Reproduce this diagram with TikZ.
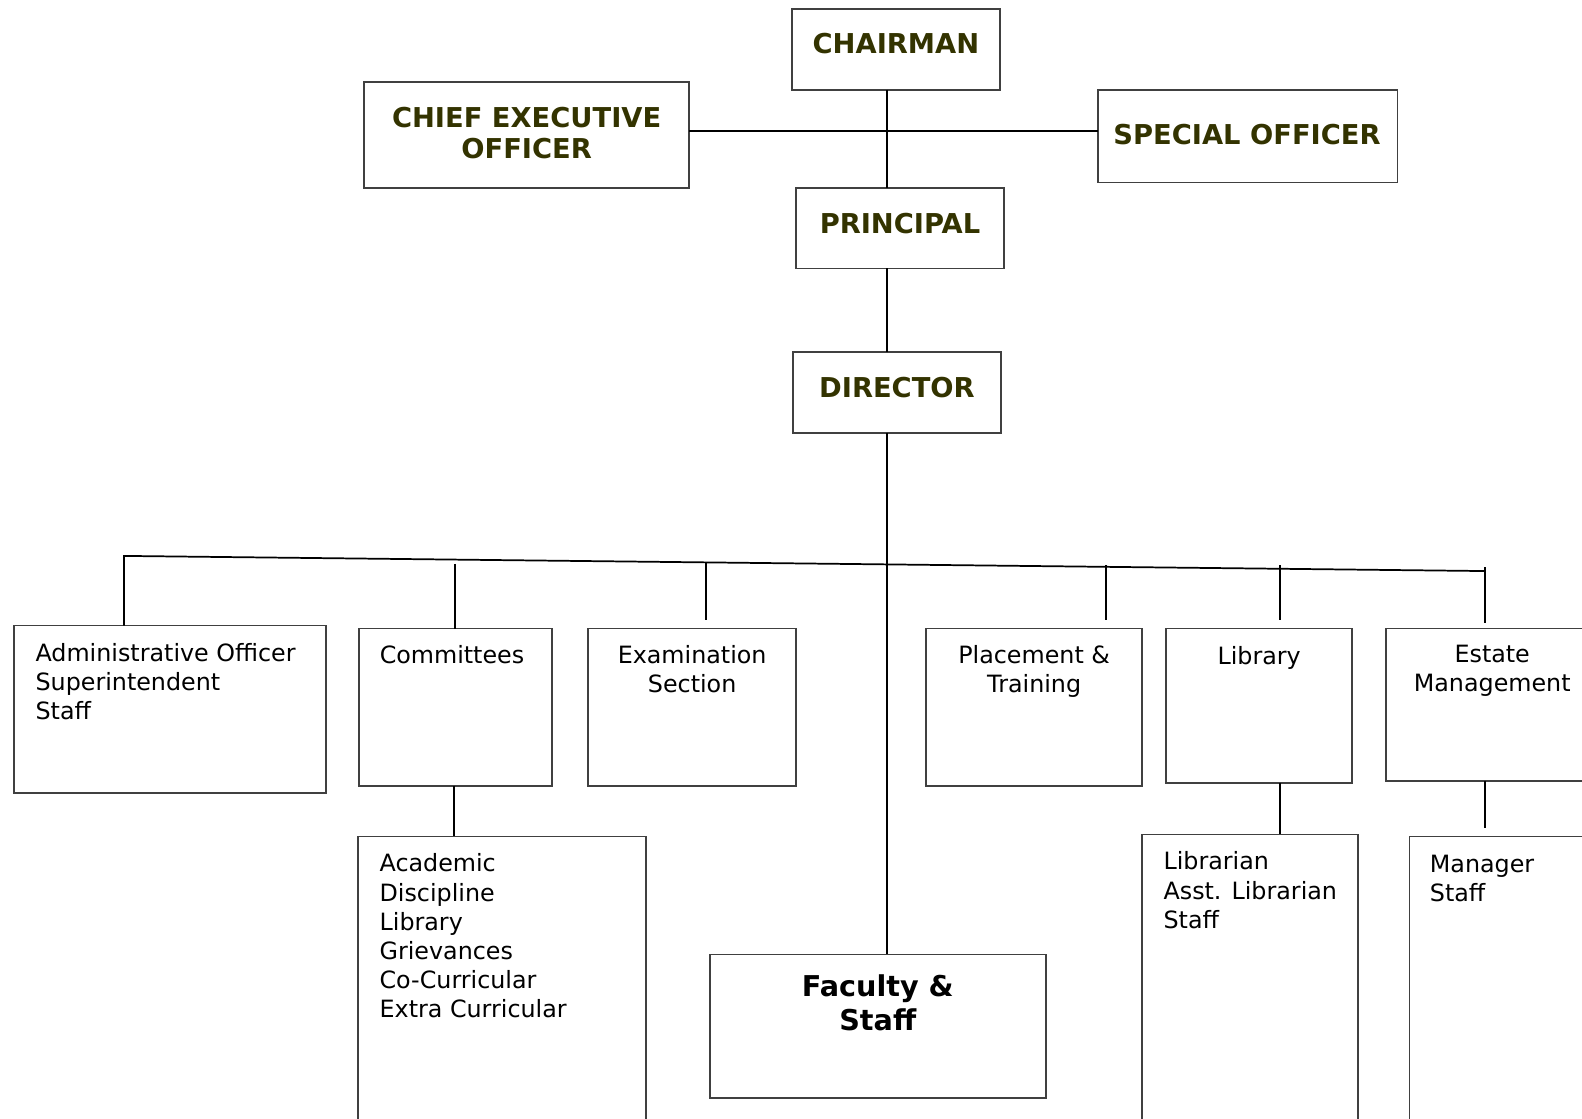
\documentclass[tikz,border=0pt]{standalone}
\usepackage{fontspec}
\setmainfont{DejaVu Sans}
\definecolor{headcol}{HTML}{333300}
\definecolor{boxcol}{HTML}{404040}
\newlength{\pxu}
\setlength{\pxu}{0.7567pt}

\begin{document}
\begin{tikzpicture}[x=0.7567pt,y=0.7567pt,yscale=-1,xscale=1,
  box/.style={draw=boxcol, line width=1.3pt, inner sep=0, outer sep=0},
  link/.style={line width=1.3pt},
  head/.style={font=\bfseries\fontsize{20.5}{23.5}\selectfont, text=headcol, align=center, inner sep=0, anchor=north},
  headbig/.style={font=\bfseries\fontsize{21.5}{25.7}\selectfont, align=center, inner sep=0, anchor=north},
  bodyl/.style={font=\fontsize{17.85}{21.9}\selectfont, align=left, inner sep=0, anchor=north west},
  bodyc/.style={font=\fontsize{17.85}{21.9}\selectfont, align=center, inner sep=0, anchor=north}]
\path [use as bounding box, clip] (0,0) rectangle (1568,1109);

%Boxes: top of the chart
\node [box, minimum width=206\pxu, minimum height=80\pxu] (chair) at (888,49) {};
\node [box, minimum width=322\pxu, minimum height=105\pxu] (ceo) at (522,133.5) {};
\node [box, minimum width=297\pxu, minimum height=92\pxu] (spec) at (1236.5,135) {};
\node [box, minimum width=206\pxu, minimum height=80\pxu] (princ) at (892,226) {};
\node [box, minimum width=206\pxu, minimum height=80\pxu] (dir) at (889,389) {};

%Boxes: sections
\node [box, minimum width=309\pxu, minimum height=166\pxu] (admin) at (168.5,703) {};
\node [box, minimum width=191\pxu, minimum height=156\pxu] (comm) at (451.5,701) {};
\node [box, minimum width=206\pxu, minimum height=156\pxu] (exam) at (686,701) {};
\node [box, minimum width=214\pxu, minimum height=156\pxu] (place) at (1025,701) {};
\node [box, minimum width=184\pxu, minimum height=153\pxu] (lib) at (1248,699.5) {};
\node [box, minimum width=211\pxu, minimum height=151\pxu] (estate) at (1479.5,698.5) {};

%Boxes: bottom row
\node [box, minimum width=285\pxu, minimum height=311\pxu] (acad) at (497.5,984.5) {};
\node [box, minimum width=333\pxu, minimum height=142\pxu] (fac) at (870.5,1017) {};
\node [box, minimum width=214\pxu, minimum height=313\pxu] (libr) at (1239,983.5) {};
\node [box, minimum width=203\pxu, minimum height=311\pxu] (mgr) at (1498.5,984.5) {};

% Text Node
\node [head] (chair-t) at (888,33) {CHAIRMAN};
% Text Node
\node [head] (ceo-t) at (522,106) {CHIEF EXECUTIVE\\OFFICER};
% Text Node
\node [head] (spec-t) at (1236,123) {SPECIAL OFFICER};
% Text Node
\node [head] (princ-t) at (892,211) {PRINCIPAL};
% Text Node
\node [head] (dir-t) at (889,374) {DIRECTOR};
% Text Node
\node [bodyl] (admin-t) at (35,637) {Administrative Officer\\Superintendent\\Staff};
% Text Node
\node [bodyc] (comm-t) at (448,639) {Committees};
% Text Node
\node [bodyc] (exam-t) at (686,639) {Examination\\Section};
% Text Node
\node [bodyc] (place-t) at (1025,639) {Placement \&\\Training};
% Text Node
\node [bodyc] (lib-t) at (1248,640) {Library};
% Text Node
\node [bodyc] (estate-t) at (1479,639) {Estate\\Management};
% Text Node
\node [bodyl] (acad-t) at (376,846) {Academic\\Discipline\\Library\\Grievances\\Co-Curricular\\Extra Curricular};
% Text Node
\node [headbig] (fac-t) at (870,966) {Faculty \&\\Staff};
% Text Node
\node [bodyl] (libr-t) at (1153,844) {Librarian\\Asst. Librarian\\Staff};
% Text Node
\node [bodyl] (mgr-t) at (1417,847) {Manager\\Staff};

%Connectors
\coordinate (sp) at (879,0);
\coordinate (hub) at (879,130);
\coordinate (busL) at (123,551);
\coordinate (busR) at (1472,566);
\coordinate (d-comm) at (451,559);
\coordinate (d-exam) at (700,558);
\coordinate (d-place) at (1096,560);
\coordinate (d-lib) at (1269,560);
\coordinate (d-est) at (1472,562);

\draw [link] (chair.south -| sp) -- (princ.north -| sp);
\draw [link] (ceo.east |- hub) -- (spec.west |- hub);
\draw [link] (princ.south -| sp) -- (dir.north -| sp);
\draw [link] (dir.south -| sp) -- (fac.north -| sp);
\draw [link] (admin.north -| busL) -- (busL) -- (busR);
\draw [link] (d-comm) -- (comm.north -| d-comm);
\draw [link, shorten >=8\pxu] (d-exam) -- (exam.north -| d-exam);
\draw [link, shorten >=8\pxu] (d-place) -- (place.north -| d-place);
\draw [link, shorten >=8\pxu] (d-lib) -- (lib.north -| d-lib);
\draw [link, shorten >=6\pxu] (d-est) -- (estate.north -| d-est);
\draw [link] (comm.south -| 450,0) -- (acad.north -| 450,0);
\draw [link] (lib.south -| d-lib) -- (libr.north -| d-lib);
\draw [link, shorten >=8\pxu] (estate.south -| d-est) -- (mgr.north -| d-est);

\end{tikzpicture}
\end{document}
